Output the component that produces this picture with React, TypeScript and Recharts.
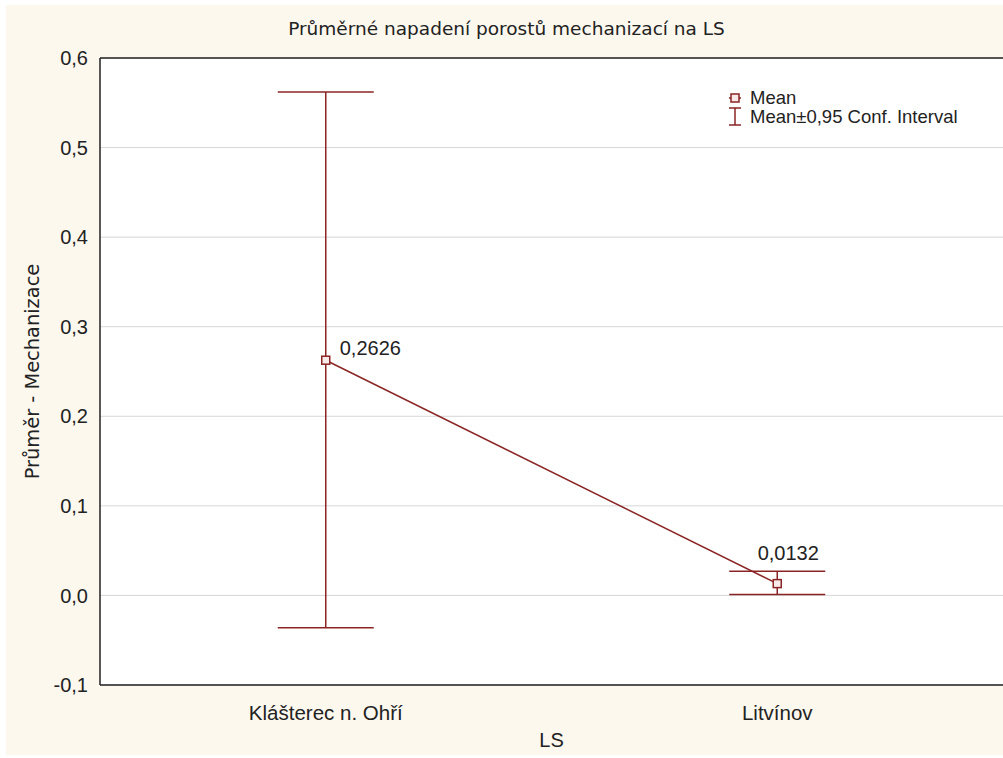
import React from "react"
import {
  CartesianGrid,
  ComposedChart,
  ErrorBar,
  Label,
  LabelList,
  Line,
  ReferenceLine,
  XAxis,
  YAxis,
} from "recharts"

const categories = ["Klášterec n. Ohří", "Litvínov"]
const means = [0.2626, 0.0132]
const upper = [0.562, 0.027]
const lower = [-0.036, 0.001]
const yTicks = [-0.1, 0, 0.1, 0.2, 0.3, 0.4, 0.5, 0.6]

const RED = "#8b2525"
const FONT = "'Liberation Sans', Arial, sans-serif"

const data = categories.map((name, i) => ({
  name,
  mean: means[i],
  ci: [means[i] - lower[i], upper[i] - means[i]],
}))

const fmt = (v: number) => v.toFixed(1).replace(".", ",")

const SquareDot = (props: any) => {
  const { cx, cy } = props
  if (cx == null || cy == null) return null
  return <rect x={cx - 4} y={cy - 4} width={8} height={8} fill="#fbeaea" stroke={RED} strokeWidth={1.5} />
}

const MeanLabel = (props: any) => {
  const { x, y, value, index } = props
  const txt = Number(value).toFixed(4).replace(".", ",")
  if (index === 0) {
    return (
      <text x={x + 14} y={y - 12} dy="0.35em" fontSize={20} fill="#222" fontFamily={FONT}>
        {txt}
      </text>
    )
  }
  return (
    <text x={x + 11} y={y - 31} dy="0.35em" textAnchor="middle" fontSize={20} fill="#222" fontFamily={FONT}>
      {txt}
    </text>
  )
}

const LegendBox = () => (
  <div
    style={{
      position: "absolute",
      top: 88,
      left: 726,
      fontFamily: FONT,
      fontSize: 18.5,
      color: "#222",
      lineHeight: "19px",
    }}
  >
    <div style={{ display: "flex", alignItems: "center" }}>
      <svg width={24} height={19}>
        <line x1={3} y1={10} x2={15} y2={10} stroke={RED} strokeWidth={1.5} />
        <rect x={5} y={6} width={8} height={8} fill="#fbeaea" stroke={RED} strokeWidth={1.5} />
      </svg>
      <span>Mean</span>
    </div>
    <div style={{ display: "flex", alignItems: "center" }}>
      <svg width={24} height={19}>
        <line x1={9} y1={1} x2={9} y2={18} stroke={RED} strokeWidth={1.5} />
        <line x1={3} y1={1} x2={15} y2={1} stroke={RED} strokeWidth={1.5} />
        <line x1={3} y1={18} x2={15} y2={18} stroke={RED} strokeWidth={1.5} />
      </svg>
      <span>Mean±0,95 Conf. Interval</span>
    </div>
  </div>
)

export default function App() {
  return (
    <div style={{ position: "relative", width: 1003, height: 758, background: "#fff", overflow: "hidden" }}>
      <style>{`body{margin:0}`}</style>
      <div style={{ position: "absolute", left: 6, top: 5, width: 997, height: 750, background: "#fcf8ee" }} />
      <div
        style={{
          position: "absolute",
          top: 18,
          left: 0,
          width: 1013,
          textAlign: "center",
          fontFamily: "'DejaVu Sans', sans-serif",
          fontSize: 18.5,
          color: "#222",
        }}
      >
        Průměrné napadení porostů mechanizací na LS
      </div>
      <div style={{ position: "absolute", top: 0, left: 0 }}>
        <ComposedChart width={1003} height={758} data={data} margin={{ top: 58, right: 0, bottom: 0, left: 0 }}>
          <CartesianGrid vertical={false} stroke="#d6d6d6" fill="#fff" />
          <XAxis
            dataKey="name"
            scale="band"
            height={73}
            tickLine={false}
            tickSize={6}
            tickMargin={14}
            axisLine={{ stroke: "#222", strokeWidth: 1.5 }}
            tick={{ fill: "#222", fontSize: 20.5, fontFamily: FONT }}
          >
            <Label value="LS" position="insideBottom" offset={11} fill="#222" fontSize={20} fontFamily={FONT} />
          </XAxis>
          <YAxis
            width={100}
            domain={[-0.1, 0.6]}
            ticks={yTicks}
            allowDataOverflow
            tickFormatter={fmt}
            tickLine={false}
            tickMargin={6}
            axisLine={{ stroke: "#222", strokeWidth: 1.5 }}
            tick={{ fill: "#222", fontSize: 20, fontFamily: FONT }}
          >
            <Label
              value="Průměr - Mechanizace"
              angle={-90}
              position="insideLeft"
              offset={32}
              style={{ textAnchor: "middle" }}
              fill="#222"
              fontSize={19.4}
              fontFamily="'DejaVu Sans', sans-serif"
            />
          </YAxis>
          <ReferenceLine y={0.6} stroke="#222" strokeWidth={1.5} />
          <Line
            dataKey="mean"
            stroke={RED}
            strokeWidth={1.5}
            dot={<SquareDot />}
            activeDot={false}
            isAnimationActive={false}
          >
            <ErrorBar dataKey="ci" direction="y" width={48} stroke={RED} strokeWidth={1.5} isAnimationActive={false} />
            <LabelList dataKey="mean" content={<MeanLabel />} />
          </Line>
        </ComposedChart>
      </div>
      <LegendBox />
    </div>
  )
}
